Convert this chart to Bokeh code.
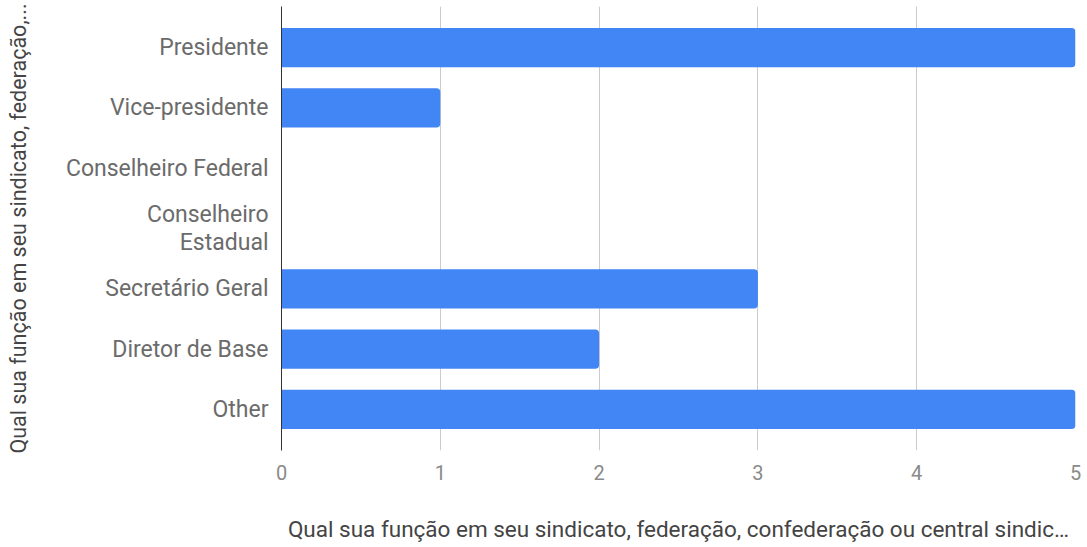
from bokeh.plotting import figure
from bokeh.models import ColumnDataSource, FactorRange, FixedTicker
from bokeh.embed import file_html
from bokeh.resources import INLINE

# Survey answers: role held in the union / federation
categories = ["Presidente", "Vice-presidente", "Conselheiro Federal",
              "Conselheiro\nEstadual", "Secretário Geral", "Diretor de Base", "Other"]
counts = [5, 1, 0, 0, 3, 2, 5]
x_ticks = [0, 1, 2, 3, 4, 5]

x_title = "Qual sua função em seu sindicato, federação, confederação ou central sindic…"
y_title = "Qual sua função em seu sindicato, federação,..."

source = ColumnDataSource(data=dict(cat=categories, n=counts))

y_range = FactorRange(factors=list(reversed(categories)),
                      range_padding=0.18, range_padding_units="absolute")

p = figure(width=1087, height=547, y_range=y_range, x_range=(0, 5),
           output_backend="svg", toolbar_location=None,
           min_border_left=281, min_border_right=12,
           min_border_top=6, min_border_bottom=97)

p.hbar(y="cat", right="n", left=0, height=0.65, source=source,
       color="#4285F4", line_color=None, border_radius=(0, 4, 4, 0))

p.outline_line_color = None
p.background_fill_color = "white"
p.border_fill_color = "white"

# vertical gridlines
p.xgrid.ticker = FixedTicker(ticks=x_ticks[1:])
p.xgrid.grid_line_color = "#cccccc"
p.xgrid.grid_line_width = 1
p.ygrid.grid_line_color = None

# x axis
p.xaxis.ticker = FixedTicker(ticks=x_ticks)
p.xaxis.axis_line_color = None
p.xaxis.major_tick_line_color = None
p.xaxis.minor_tick_line_color = None
p.xaxis.major_label_standoff = 8
p.xaxis.major_label_text_font = "Roboto"
p.xaxis.major_label_text_font_size = "20px"
p.xaxis.major_label_text_color = "#8a8a8a"
p.xaxis.axis_label = x_title
p.xaxis.axis_label_text_font = "Roboto"
p.xaxis.axis_label_text_font_style = "normal"
p.xaxis.axis_label_text_font_size = "22.5px"
p.xaxis.axis_label_text_color = "#444444"
p.xaxis.axis_label_standoff = 33

# y axis
p.yaxis.axis_line_color = "#333333"
p.yaxis.axis_line_width = 1
p.yaxis.major_tick_line_color = None
p.yaxis.minor_tick_line_color = None
p.yaxis.major_label_standoff = 7
p.yaxis.major_label_text_font = "Roboto"
p.yaxis.major_label_text_font_size = "23px"
p.yaxis.major_label_text_line_height = 1.05
p.yaxis.major_label_text_color = "#6b6b6b"
p.yaxis.axis_label = y_title
p.yaxis.axis_label_text_font = "Roboto"
p.yaxis.axis_label_text_font_style = "normal"
p.yaxis.axis_label_text_font_size = "21.5px"
p.yaxis.axis_label_text_color = "#444444"
p.yaxis.axis_label_standoff = 32

open("out.html", "w").write(file_html(p, INLINE))
